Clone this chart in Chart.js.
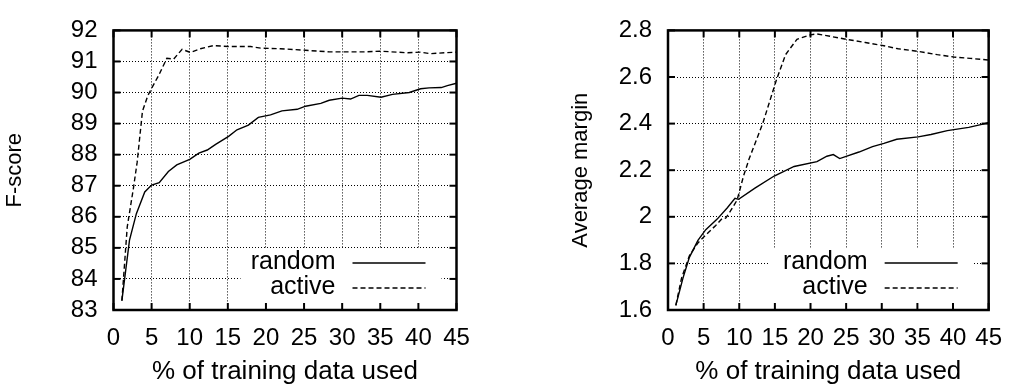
<!DOCTYPE html>
<html>
<head>
<meta charset="utf-8">
<script src="https://cdn.jsdelivr.net/npm/chart.js@4"></script>
<style>
  html, body { margin: 0; padding: 0; background: #fff; }
  .pane { position: absolute; top: 0; width: 508px; height: 389px; }
</style>
</head>
<body>
<div class="pane" style="left:0"><canvas id="fChart"></canvas></div>
<div class="pane" style="left:508px"><canvas id="mChart"></canvas></div>
<script>
// --- data ---
const fRandomPct = [1.1, 2.1, 3.0, 4.1, 5.0, 6.0, 7.2, 8.3, 10.0, 11.2, 12.3, 13.4, 15.1, 16.2, 17.7, 19.0, 20.6, 22.1, 24.1, 25.2, 27.2, 28.3, 30.0, 31.1, 32.2, 33.3, 35.1, 36.6, 38.8, 40.3, 41.4, 43.0, 43.8, 45.0];
const fRandom    = [83.3, 85.25, 86.1, 86.8, 87.02, 87.1, 87.46, 87.67, 87.85, 88.05, 88.15, 88.33, 88.59, 88.8, 88.95, 89.2, 89.28, 89.41, 89.46, 89.56, 89.65, 89.75, 89.82, 89.79, 89.91, 89.91, 89.85, 89.94, 90.0, 90.12, 90.15, 90.16, 90.22, 90.3];
const fActivePct = [1.1, 1.8, 2.6, 3.1, 3.8, 4.5, 5.1, 5.9, 7.0, 7.9, 9.0, 10.1, 11.4, 13.1, 15.3, 18.0, 19.3, 21.9, 25.2, 28.3, 32.9, 35.1, 38.6, 40.3, 41.6, 43.4, 45.0];
const fActive    = [83.3, 85.67, 86.9, 87.75, 89.4, 89.9, 90.18, 90.54, 91.1, 91.08, 91.39, 91.29, 91.41, 91.51, 91.48, 91.48, 91.43, 91.41, 91.36, 91.31, 91.31, 91.33, 91.28, 91.3, 91.25, 91.28, 91.3];

const mRandomPct = [1.1, 2.1, 3.0, 4.2, 5.3, 6.9, 8.3, 9.4, 9.9, 12.2, 14.9, 17.7, 20.9, 22.3, 23.2, 24.1, 26.8, 28.7, 30.3, 32.1, 35.1, 36.9, 39.2, 42.2, 44.2, 45.0];
const mRandom    = [1.62, 1.737, 1.826, 1.899, 1.945, 1.99, 2.038, 2.079, 2.075, 2.123, 2.175, 2.216, 2.237, 2.26, 2.267, 2.25, 2.278, 2.301, 2.315, 2.333, 2.343, 2.353, 2.37, 2.384, 2.398, 2.405];
const mActivePct = [1.1, 1.9, 3.0, 4.2, 5.3, 6.7, 7.6, 8.1, 8.75, 9.7, 10.6, 11.4, 13.3, 15.2, 16.5, 18.1, 20.0, 20.9, 25.0, 27.7, 30.3, 32.3, 35.1, 37.8, 40.1, 42.4, 44.9];
const mActive    = [1.62, 1.737, 1.833, 1.888, 1.922, 1.963, 1.993, 1.994, 2.024, 2.072, 2.175, 2.25, 2.401, 2.586, 2.696, 2.762, 2.781, 2.785, 2.762, 2.748, 2.734, 2.721, 2.71, 2.696, 2.686, 2.68, 2.673];

const seriesNames = ['random', 'active'];
const xTitle = '% of training data used';
const FONT = '"Liberation Sans", Arial, sans-serif';

const pts = (xs, ys) => xs.map((x, i) => ({ x: x, y: ys[i] }));

// gnuplot-style frame: inward ticks on all sides, heavy border, key box
const framePlugin = {
    id: 'frame',
    beforeDatasetsDraw(chart, args, o) {
        const a = chart.chartArea, ctx = chart.ctx;
        ctx.save();
        ctx.fillStyle = '#fff';
        ctx.fillRect(a.right - o.keyLeft, a.bottom - 62, o.keyLeft - 15, 62);
        ctx.restore();
    },
    afterDraw(chart, args, o) {
        const a = chart.chartArea, ctx = chart.ctx;
        const xs = chart.scales.x, ys = chart.scales.y;
        const seg = (x1, y1, x2, y2) => { ctx.beginPath(); ctx.moveTo(x1, y1); ctx.lineTo(x2, y2); ctx.stroke(); };
        ctx.save();
        ctx.strokeStyle = '#000';
        ctx.lineWidth = 2;
        xs.ticks.forEach(t => {
            const px = xs.getPixelForValue(t.value);
            seg(px, a.bottom, px, a.bottom - 7);
            seg(px, a.top, px, a.top + 7);
        });
        ys.ticks.forEach(t => {
            const py = ys.getPixelForValue(t.value);
            seg(a.left, py, a.left + 7, py);
            seg(a.right, py, a.right - 7, py);
        });
        ctx.lineWidth = 2.5;
        ctx.strokeRect(a.left, a.top, a.right - a.left, a.bottom - a.top);

        // key
        ctx.font = '25px ' + FONT;
        ctx.fillStyle = '#000';
        ctx.textAlign = 'right';
        ctx.textBaseline = 'middle';
        chart.data.datasets.forEach((ds, i) => {
            const y = a.bottom - 48 + i * 25;
            ctx.fillText(ds.label, a.right - 121, y);
            ctx.lineWidth = 1.4;
            ctx.setLineDash(ds.borderDash || []);
            seg(a.right - 104, y + 1, a.right - 31, y + 1);
            ctx.setLineDash([]);
        });
        ctx.restore();
    }
};

function makeChart(id, series, yMin, yMax, yStep, yTitle, yWidth, yTitlePad, padRight, keyLeft) {
    const styles = [[], [5, 3]];
    return new Chart(document.getElementById(id), {
        type: 'line',
        data: {
            datasets: series.map((d, i) => ({
                label: seriesNames[i], data: d, borderColor: '#000', borderWidth: 1.4,
                borderDash: styles[i], pointRadius: 0, tension: 0, fill: false
            }))
        },
        options: {
            responsive: true, maintainAspectRatio: false, animation: false,
            layout: { padding: { top: 18, right: padRight, left: 0, bottom: 0 } },
            plugins: { legend: { display: false }, tooltip: { enabled: false }, frame: { keyLeft: keyLeft } },
            scales: {
                x: {
                    type: 'linear', min: 0, max: 45,
                    ticks: { stepSize: 5, color: '#000', font: { size: 24, family: FONT }, padding: 14, maxRotation: 0, autoSkip: false },
                    grid: { color: '#000', lineWidth: 1, drawTicks: false },
                    border: { display: false, dash: [1, 2] },
                    title: { display: true, text: xTitle, color: '#000', font: { size: 26, family: FONT }, padding: { top: 0, bottom: 2 } },
                    afterFit: s => { s.height = 79; }
                },
                y: {
                    min: yMin, max: yMax,
                    ticks: { stepSize: yStep, color: '#000', font: { size: 24, family: FONT }, padding: 16, autoSkip: false,
                             callback: v => String(Math.round(v * 10) / 10) },
                    grid: { color: '#000', lineWidth: 1, drawTicks: false },
                    border: { display: false, dash: [1, 2] },
                    title: { display: true, text: yTitle, color: '#000', font: { size: 22, family: FONT }, padding: { top: yTitlePad, bottom: 0 } },
                    afterFit: s => { s.width = yWidth; }
                }
            }
        },
        plugins: [framePlugin]
    });
}

makeChart('fChart', [pts(fRandomPct, fRandom), pts(fActivePct, fActive)], 83, 92, 1, 'F-score', 113.5, 2, 51.5, 216);
makeChart('mChart', [pts(mRandomPct, mRandom), pts(mActivePct, mActive)], 1.6, 2.8, 0.2, 'Average margin', 160, 60, 20.3, 219);
</script>
</body>
</html>
